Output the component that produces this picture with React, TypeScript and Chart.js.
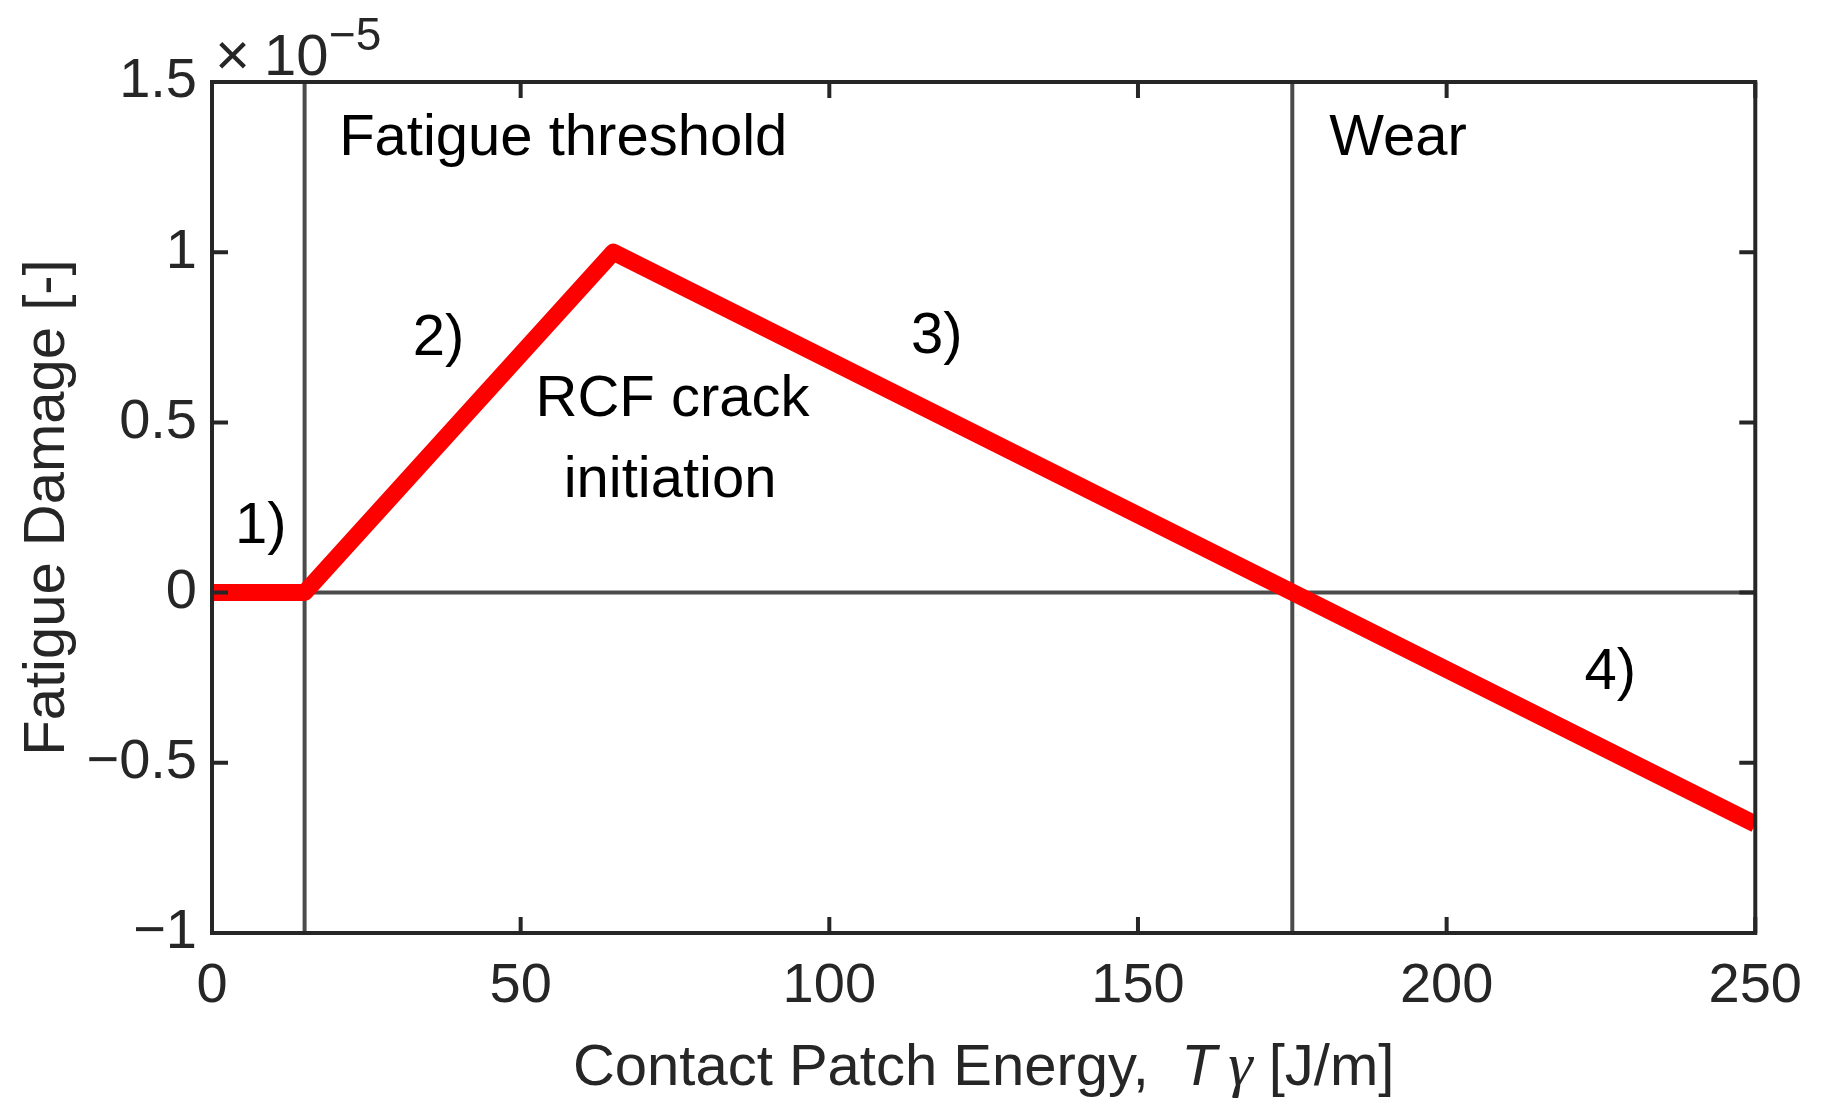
import { useEffect, useRef } from "react";
import { Chart, registerables } from "chart.js";

Chart.register(...registerables);

const SANS = '"Liberation Sans", Arial, Helvetica, sans-serif';

// contact patch energy [J/m] vs fatigue damage (x 1e-5)
const ENERGY = [0, 15, 65, 250];
const DAMAGE = [0, 0, 1, -0.68];
const EXPONENT = "5";

const X_TICKS = [0, 50, 100, 150, 200, 250];
const Y_TICKS = [-1, -0.5, 0, 0.5, 1, 1.5];
const REGION_BOUNDS = [15, 175];

const NOTE_TEXT = ["Fatigue threshold", "Wear", "1)", "2)", "3)", "RCF crack", "initiation", "4)"];
const NOTE_X = [20.6, 181, 7.9, 36.7, 117.4, 74.6, 74.2, 226.5];
const NOTE_Y = [1.286, 1.286, 0.146, 0.698, 0.704, 0.519, 0.281, -0.283];
const NOTE_ALIGN: CanvasTextAlign[] = ["left", "left", "center", "center", "center", "center", "center", "center"];

const AXIS = "#262626";
const REF = "#4b4b4b";
const LABEL_SIZE = 58;

const fmt = (v: number) => (v < 0 ? "\u2212" + Math.abs(v) : String(v));

const decorations = {
  id: "decorations",
  afterDraw(chart: Chart) {
    const { ctx, chartArea: a } = chart;
    const x = chart.scales.x;
    const y = chart.scales.y;
    ctx.save();

    // inward ticks on all four sides + box
    ctx.strokeStyle = AXIS;
    ctx.lineWidth = 4;
    ctx.beginPath();
    X_TICKS.forEach((v) => {
      const px = x.getPixelForValue(v);
      ctx.moveTo(px, a.bottom);
      ctx.lineTo(px, a.bottom - 16);
      ctx.moveTo(px, a.top);
      ctx.lineTo(px, a.top + 16);
    });
    Y_TICKS.forEach((v) => {
      const py = y.getPixelForValue(v);
      ctx.moveTo(a.left, py);
      ctx.lineTo(a.left + 16, py);
      ctx.moveTo(a.right, py);
      ctx.lineTo(a.right - 16, py);
    });
    ctx.stroke();
    ctx.strokeRect(a.left, a.top, a.right - a.left, a.bottom - a.top);

    // annotations
    ctx.fillStyle = "#000";
    ctx.font = `58px ${SANS}`;
    ctx.textBaseline = "alphabetic";
    NOTE_TEXT.forEach((t, i) => {
      ctx.textAlign = NOTE_ALIGN[i];
      ctx.fillText(t, x.getPixelForValue(NOTE_X[i]), y.getPixelForValue(NOTE_Y[i]));
    });

    // x axis title with italic symbol
    ctx.fillStyle = AXIS;
    ctx.textAlign = "left";
    const parts = [
      { t: "Contact Patch Energy,  ", f: `${LABEL_SIZE}px ${SANS}` },
      { t: "T", f: `italic ${LABEL_SIZE}px ${SANS}` },
      { t: "\u2009", f: `${LABEL_SIZE}px ${SANS}` },
      { t: "\u03b3", f: `italic ${LABEL_SIZE + 4}px "Liberation Serif", serif` },
      { t: " [J/m]", f: `${LABEL_SIZE}px ${SANS}` },
    ];
    let total = 0;
    parts.forEach((p) => {
      ctx.font = p.f;
      total += ctx.measureText(p.t).width;
    });
    let cx = (a.left + a.right) / 2 - total / 2;
    const base = a.bottom + 152;
    parts.forEach((p) => {
      ctx.font = p.f;
      ctx.fillText(p.t, cx, base);
      cx += ctx.measureText(p.t).width;
    });

    // exponent multiplier
    ctx.font = `60px ${SANS}`;
    ctx.fillText("\u00d7", a.left + 3, a.top - 7);
    ctx.font = `58px ${SANS}`;
    ctx.fillText("10", a.left + 52, a.top - 7);
    ctx.font = `46px ${SANS}`;
    ctx.fillText("\u2212" + EXPONENT, a.left + 117, a.top - 32);

    ctx.restore();
  },
};

export default function App() {
  const canvasRef = useRef<HTMLCanvasElement | null>(null);

  useEffect(() => {
    const canvas = canvasRef.current;
    if (!canvas) return;
    Chart.defaults.font.family = SANS;

    const refLines = [
      ...REGION_BOUNDS.map((b) => ({
        data: [
          { x: b, y: Y_TICKS[0] },
          { x: b, y: Y_TICKS[Y_TICKS.length - 1] },
        ],
      })),
      {
        data: [
          { x: X_TICKS[0], y: 0 },
          { x: X_TICKS[X_TICKS.length - 1], y: 0 },
        ],
      },
    ].map((d) => ({
      ...d,
      borderColor: REF,
      borderWidth: 4,
      pointRadius: 0,
      fill: false,
      clip: 0,
    }));

    const chart = new Chart(canvas, {
      type: "line",
      data: {
        datasets: [
          {
            data: ENERGY.map((e, i) => ({ x: e, y: DAMAGE[i] })),
            borderColor: "#ff0000",
            borderWidth: 17,
            pointRadius: 0,
            fill: false,
            tension: 0,
            clip: 0,
            borderJoinStyle: "round",
            borderCapStyle: "butt",
          },
          ...refLines,
        ],
      },
      options: {
        animation: false,
        responsive: true,
        maintainAspectRatio: false,
        devicePixelRatio: 1,
        events: [],
        layout: { padding: { left: 0, top: 82, right: 66, bottom: 0 } },
        plugins: { legend: { display: false }, tooltip: { enabled: false } },
        scales: {
          x: {
            type: "linear",
            min: X_TICKS[0],
            max: X_TICKS[X_TICKS.length - 1],
            afterBuildTicks: (s: any) => {
              s.ticks = X_TICKS.map((value) => ({ value }));
            },
            afterFit: (s: any) => {
              s.height = 173;
            },
            grid: { display: false, drawTicks: false },
            border: { display: false },
            ticks: {
              padding: 20,
              color: AXIS,
              font: { size: 56 },
              maxRotation: 0,
              autoSkip: false,
              callback: (v: any) => fmt(Number(v)),
            },
          },
          y: {
            type: "linear",
            min: Y_TICKS[0],
            max: Y_TICKS[Y_TICKS.length - 1],
            afterBuildTicks: (s: any) => {
              s.ticks = Y_TICKS.map((value) => ({ value }));
            },
            afterFit: (s: any) => {
              s.width = 212;
            },
            grid: { display: false, drawTicks: false },
            border: { display: false },
            title: {
              display: true,
              text: "Fatigue Damage [-]",
              color: AXIS,
              font: { size: LABEL_SIZE },
              padding: { top: 13, bottom: 0 },
            },
            ticks: {
              padding: 15,
              color: AXIS,
              font: { size: 56 },
              autoSkip: false,
              callback: (v: any) => fmt(Number(v)),
            },
          },
        },
      },
      plugins: [decorations],
    });
    return () => chart.destroy();
  }, []);

  return (
    <div
      style={{
        position: "fixed",
        left: 0,
        top: 0,
        width: 1822,
        height: 1106,
        background: "#fff",
      }}
    >
      <canvas ref={canvasRef} />
    </div>
  );
}
